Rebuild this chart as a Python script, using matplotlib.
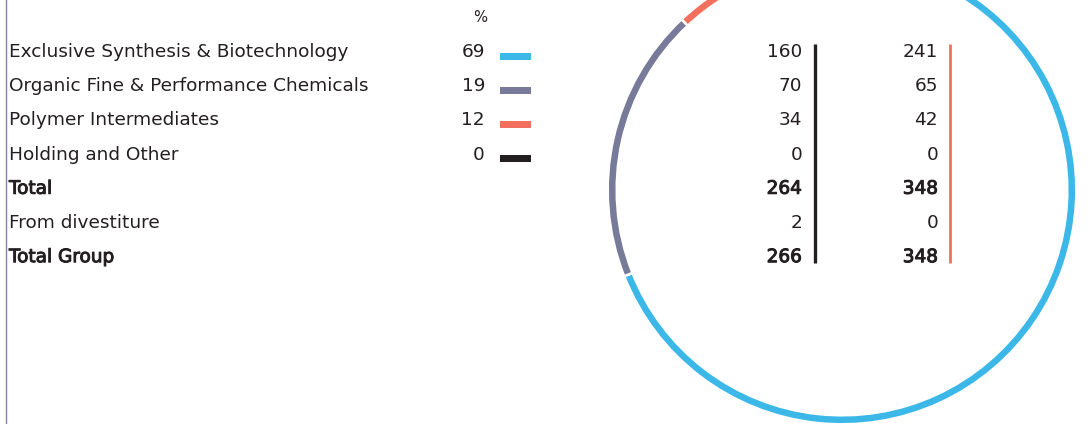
import matplotlib
matplotlib.use("Agg")
import matplotlib.pyplot as plt
import matplotlib.patheffects as pe
from matplotlib.patches import Rectangle

# Segment shares and the two value columns
segments = ["Exclusive Synthesis & Biotechnology",
            "Organic Fine & Performance Chemicals",
            "Polymer Intermediates",
            "Holding and Other"]
share_pct = [69, 19, 12, 0]
row_labels = segments + ["Total", "From divestiture", "Total Group"]
bold_rows = {"Total", "Total Group"}
values_a = [160, 70, 34, 0, 264, 2, 266]
values_b = [241, 65, 42, 0, 348, 0, 348]

seg_colors = ["#3bb8e8", "#777a99", "#f26f5d", "#231f20"]
text_color = "#231f20"
line_a_color = "#231f20"
line_b_color = "#f2705e"

W, H = 1088, 424
plt.rcParams["font.family"] = ["DejaVu Sans"]

fig = plt.figure(figsize=(W / 100, H / 100), dpi=100)
ax = fig.add_axes([0, 0, 1, 1])


def Y(p):
    """Convert a top-based pixel row into axes data coordinates."""
    return H - p


# Ring of segment shares (white outline opens small gaps between segments)
ax.pie(share_pct, colors=seg_colors, startangle=90, counterclock=False,
       radius=234.3, center=(842, Y(190)),
       wedgeprops=dict(width=9.0, edgecolor="white", linewidth=1.8))

ax.set_xlim(0, W)
ax.set_ylim(0, H)
ax.set_aspect("auto")
ax.axis("off")

# Left border rule
ax.plot([6, 6], [0, H], color="#7f84ab", lw=1.0)

fs = 13.3
row_top, row_step = 52, 34.2
semibold = [pe.withStroke(linewidth=0.7, foreground=text_color)]

ax.text(480, Y(18), "%", ha="center", va="center", fontsize=fs * 0.8,
        color=text_color)

for i, label in enumerate(row_labels):
    y = Y(row_top + i * row_step)
    effects = semibold if label in bold_rows else None
    for x, txt, ha in ((9, label, "left"),
                       (802, f"{values_a[i]}", "right"),
                       (938, f"{values_b[i]}", "right")):
        ax.text(x, y, txt, ha=ha, va="center", fontsize=fs,
                color=text_color, path_effects=effects)

for i, pct in enumerate(share_pct):
    y = Y(row_top + i * row_step)
    ax.text(485, y, f"{pct}", ha="right", va="center", fontsize=fs,
            color=text_color)
    ax.add_patch(Rectangle((500, y - 7.5), 31, 7, color=seg_colors[i], lw=0))

# Column markers
ax.plot([815, 815], [Y(44), Y(263)], color=line_a_color, lw=2.4,
        solid_capstyle="butt")
ax.plot([950, 950], [Y(44), Y(263)], color=line_b_color, lw=2.0,
        solid_capstyle="butt")

fig.savefig("out.png", dpi=100)
